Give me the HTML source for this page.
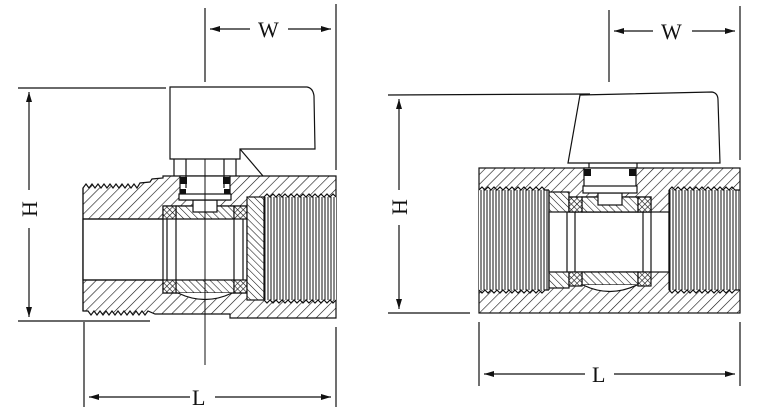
<!DOCTYPE html>
<html><head><meta charset="utf-8"><style>
html,body{margin:0;padding:0;background:#fff;}
svg{display:block;}
text{font-family:"Liberation Serif",serif;font-size:22px;fill:#111;}
</style></head><body>
<svg width="770" height="418" viewBox="0 0 770 418" xmlns="http://www.w3.org/2000/svg">
<defs>
<pattern id="h" width="7" height="7" patternUnits="userSpaceOnUse" patternTransform="rotate(45)">
<rect width="7" height="7" fill="#fff"/><line x1="0" y1="0" x2="0" y2="7" stroke="#111" stroke-width="1.2"/>
</pattern>
<pattern id="h2" width="5" height="5" patternUnits="userSpaceOnUse" patternTransform="rotate(-45)">
<rect width="5" height="5" fill="#fff"/><line x1="0" y1="0" x2="0" y2="5" stroke="#111" stroke-width="1.1"/>
</pattern>
<pattern id="v" width="3" height="10" patternUnits="userSpaceOnUse">
<rect width="3" height="10" fill="#fff"/><line x1="1" y1="0" x2="1" y2="10" stroke="#111" stroke-width="1"/>
</pattern>
<pattern id="x" width="4" height="4" patternUnits="userSpaceOnUse" patternTransform="rotate(45)">
<rect width="4" height="4" fill="#fff"/><line x1="0" y1="0" x2="0" y2="4" stroke="#111" stroke-width="1.2"/><line x1="0" y1="0" x2="4" y2="0" stroke="#111" stroke-width="1.2"/>
</pattern>
<marker id="a" viewBox="0 0 10 6" refX="10" refY="3" markerWidth="10" markerHeight="6" orient="auto-start-reverse" markerUnits="userSpaceOnUse">
<path d="M0,0 L10,3 L0,6 Z" fill="#111"/></marker>
</defs>
<g stroke="#111" stroke-width="1.2" fill="none">
<!-- ===== LEFT VALVE ===== -->
<line x1="205" y1="8" x2="205" y2="82"/>
<line x1="336" y1="4" x2="336" y2="170"/>
<line x1="210" y1="29" x2="250" y2="29" marker-start="url(#a)"/>
<line x1="288" y1="29" x2="331" y2="29" marker-end="url(#a)"/>
<line x1="18" y1="88" x2="166" y2="88"/>
<line x1="18" y1="321" x2="150" y2="321"/>
<line x1="29" y1="92" x2="29" y2="190" marker-start="url(#a)"/>
<line x1="29" y1="228" x2="29" y2="317" marker-end="url(#a)"/>
<line x1="84" y1="322" x2="84" y2="407"/>
<line x1="336" y1="327" x2="336" y2="407"/>
<line x1="89" y1="397" x2="190" y2="397" marker-start="url(#a)"/>
<line x1="215" y1="397" x2="331" y2="397" marker-end="url(#a)"/>
<path fill="url(#h)" d="M83,188 L86,184 L89,188 L92,184 L95,188 L98,184 L101,188 L104,184 L107,188 L110,184 L113,188 L116,184 L119,188 L122,184 L125,188 L128,184 L131,188 L134,184 L137,188 L140,183 L150,182 L152,179 L163,178 L163,176 L336,176 L336,318 L230,318 L230,314 L155,314 L148,311 L145,315 L142,311 L139,315 L136,311 L133,315 L130,311 L127,315 L124,311 L121,315 L118,311 L115,315 L112,311 L109,315 L106,311 L103,315 L100,311 L97,315 L94,311 L91,315 L88,311 L83,311 Z"/>
<rect x="83" y="219" width="181" height="61" fill="#fff"/>
<line x1="83" y1="219" x2="264" y2="219"/><line x1="83" y1="280" x2="264" y2="280"/>
<line x1="83" y1="188" x2="83" y2="311"/>
<rect x="264" y="197" width="72" height="103" fill="url(#v)" stroke="none"/>
<path d="M264,197 L267,194 L270,197 L273,194 L276,197 L279,194 L282,197 L285,194 L288,197 L291,194 L294,197 L297,194 L300,197 L303,194 L306,197 L309,194 L312,197 L315,194 L318,197 L321,194 L324,197 L327,194 L330,197 L333,194 L336,197"/>
<path d="M264,300 L267,303 L270,300 L273,303 L276,300 L279,303 L282,300 L285,303 L288,300 L291,303 L294,300 L297,303 L300,300 L303,303 L306,300 L309,303 L312,300 L315,303 L318,300 L321,303 L324,300 L327,303 L330,300 L333,303 L336,300"/>
<line x1="264" y1="197" x2="264" y2="300"/>
<rect x="163" y="206" width="84" height="87" fill="#fff"/>
<path d="M176,206 L234,206 L234,219 L176,219 Z" fill="url(#h2)"/>
<path d="M176,280 L234,280 L234,293 L176,293 Z" fill="url(#h2)"/>
<path d="M178,293 Q205,306 232,293" fill="#fff"/>
<rect x="193" y="200" width="24" height="12" fill="#fff"/>
<rect x="163" y="206" width="13" height="13" fill="url(#x)"/>
<rect x="234" y="206" width="13" height="13" fill="url(#x)"/>
<rect x="163" y="280" width="13" height="13" fill="url(#x)"/>
<rect x="234" y="280" width="13" height="13" fill="url(#x)"/>
<line x1="167" y1="219" x2="167" y2="280"/><line x1="176" y1="219" x2="176" y2="280"/>
<line x1="234" y1="219" x2="234" y2="280"/><line x1="243" y1="219" x2="243" y2="280"/>
<rect x="247" y="197" width="17" height="103" fill="url(#h2)"/>
<rect x="180" y="176" width="50" height="24" fill="#fff"/>
<rect x="179" y="194" width="52" height="6" fill="#fff"/>
<rect x="180" y="177" width="7" height="7" fill="#111" stroke="none"/>
<rect x="223" y="177" width="7" height="7" fill="#111" stroke="none"/>
<rect x="180" y="189" width="6" height="5" fill="#111" stroke="none"/>
<rect x="224" y="189" width="6" height="5" fill="#111" stroke="none"/>
<line x1="174" y1="159" x2="174" y2="176"/><line x1="186" y1="159" x2="186" y2="188"/>
<line x1="224" y1="159" x2="224" y2="188"/><line x1="236" y1="159" x2="236" y2="176"/>
<line x1="205" y1="159" x2="205" y2="365" stroke-width="1"/>
<path fill="#fff" d="M170,159 L170,87 L307,87 Q313,88 314,96 L315,149 L240,149 L240,159 Z"/>
<line x1="240" y1="149" x2="263" y2="176"/>

<!-- ===== RIGHT VALVE ===== -->
<line x1="609" y1="10" x2="609" y2="82"/>
<line x1="740" y1="6" x2="740" y2="160"/>
<line x1="614" y1="31" x2="653" y2="31" marker-start="url(#a)"/>
<line x1="692" y1="31" x2="735" y2="31" marker-end="url(#a)"/>
<line x1="388" y1="95" x2="590" y2="94"/>
<line x1="388" y1="313" x2="470" y2="313"/>
<line x1="399" y1="99" x2="399" y2="190" marker-start="url(#a)"/>
<line x1="399" y1="225" x2="399" y2="309" marker-end="url(#a)"/>
<line x1="479" y1="322" x2="479" y2="386"/>
<line x1="740" y1="322" x2="740" y2="386"/>
<line x1="484" y1="374" x2="585" y2="374" marker-start="url(#a)"/>
<line x1="614" y1="374" x2="735" y2="374" marker-end="url(#a)"/>
<rect x="479" y="168" width="261" height="145" fill="url(#h)"/>
<rect x="479" y="190" width="70" height="100" fill="url(#v)" stroke="none"/>
<rect x="669" y="190" width="71" height="100" fill="url(#v)" stroke="none"/>
<path d="M479,190 L482,187 L485,190 L488,187 L491,190 L494,187 L497,190 L500,187 L503,190 L506,187 L509,190 L512,187 L515,190 L518,187 L521,190 L524,187 L527,190 L530,187 L533,190 L536,187 L539,190 L542,187 L545,190 L549,190"/>
<path d="M479,290 L482,293 L485,290 L488,293 L491,290 L494,293 L497,290 L500,293 L503,290 L506,293 L509,290 L512,293 L515,290 L518,293 L521,290 L524,293 L527,290 L530,293 L533,290 L536,293 L539,290 L542,293 L545,290 L549,290"/>
<path d="M669,190 L672,187 L675,190 L678,187 L681,190 L684,187 L687,190 L690,187 L693,190 L696,187 L699,190 L702,187 L705,190 L708,187 L711,190 L714,187 L717,190 L720,187 L723,190 L726,187 L729,190 L732,187 L735,190 L740,190"/>
<path d="M669,290 L672,293 L675,290 L678,293 L681,290 L684,293 L687,290 L690,293 L693,290 L696,293 L699,290 L702,293 L705,290 L708,293 L711,290 L714,293 L717,290 L720,293 L723,290 L726,293 L729,290 L732,293 L735,290 L740,290"/>
<rect x="549" y="192" width="20" height="96" fill="url(#h2)"/>
<rect x="549" y="212" width="120" height="60" fill="#fff"/>
<line x1="669" y1="190" x2="669" y2="290"/><line x1="549" y1="190" x2="549" y2="290"/>
<rect x="569" y="197" width="82" height="15" fill="#fff"/>
<path d="M582,197 L638,197 L638,212 L582,212 Z" fill="url(#h2)"/>
<path d="M582,272 L638,272 L638,285 L582,285 Z" fill="url(#h2)"/>
<path d="M583,285 Q610,298 637,285" fill="#fff"/>
<rect x="598" y="193" width="24" height="12" fill="#fff"/>
<rect x="569" y="197" width="13" height="15" fill="url(#x)"/>
<rect x="638" y="197" width="13" height="15" fill="url(#x)"/>
<rect x="569" y="272" width="13" height="14" fill="url(#x)"/>
<rect x="638" y="272" width="13" height="14" fill="url(#x)"/>
<line x1="567" y1="212" x2="567" y2="272"/><line x1="575" y1="212" x2="575" y2="272"/>
<line x1="643" y1="212" x2="643" y2="272"/><line x1="651" y1="212" x2="651" y2="272"/>
<rect x="584" y="168" width="52" height="22" fill="#fff"/>
<rect x="583" y="186" width="54" height="7" fill="#fff"/>
<rect x="584" y="169" width="7" height="7" fill="#111" stroke="none"/>
<rect x="629" y="169" width="7" height="7" fill="#111" stroke="none"/>
<line x1="589" y1="163" x2="589" y2="168"/><line x1="637" y1="163" x2="637" y2="168"/>
<path fill="#fff" d="M568,163 L580,95 L712,92 Q718,93 718,100 L720,163 Z"/>
</g>
<text x="258" y="37">W</text>
<text x="661" y="39">W</text>
<text x="192" y="405">L</text>
<text x="592" y="382">L</text>
<text transform="translate(37,209) rotate(-90)" text-anchor="middle">H</text>
<text transform="translate(407,207) rotate(-90)" text-anchor="middle">H</text>
</svg>
</body></html>
